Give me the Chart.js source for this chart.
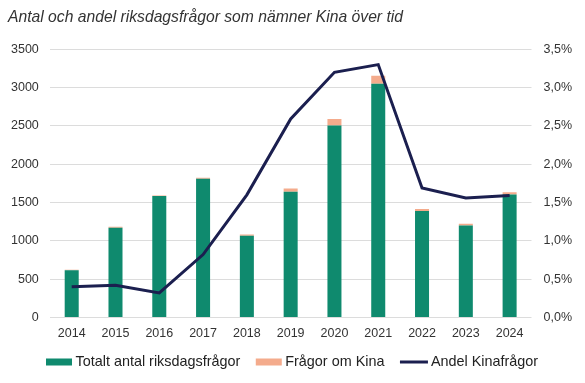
<!DOCTYPE html>
<html><head><meta charset="utf-8">
<script src="https://cdn.jsdelivr.net/npm/chart.js@4/dist/chart.umd.min.js"></script>
<style>html,body{margin:0;padding:0;background:#fff}#wrap{width:585px;height:383px}</style>
</head><body><div id="wrap"><canvas id="c" width="585" height="383"></canvas></div>
<script>
const years = ['2014','2015','2016','2017','2018','2019','2020','2021','2022','2023','2024'];
const totalQuestions = [615, 1170, 1585, 1810, 1065, 1640, 2505, 3050, 1390, 1200, 1605];
const chinaQuestions = [8, 12, 6, 14, 18, 42, 85, 105, 25, 22, 30];
const chinaShare = [0.40, 0.42, 0.32, 0.82, 1.60, 2.59, 3.20, 3.30, 1.69, 1.56, 1.59];
const titleText = 'Antal och andel riksdagsfrågor som nämner Kina över tid';

const font = "'Liberation Sans', Arial, sans-serif";

const customLegend = {
  id:'customLegend',
  afterDraw(chart){
    const ctx = chart.ctx;
    ctx.save();
    ctx.textBaseline = 'middle';
    ctx.textAlign = 'left';
    ctx.fillStyle = '#333';
    ctx.font = "italic 15.7px " + font;
    ctx.fillText(titleText, 8, 18);
    ctx.font = "14.4px " + font;
    let x = 46; const y = 362;
    chart.data.datasets.forEach((ds, i) => {
      if (ds.type === 'line') {
        ctx.strokeStyle = ds.borderColor; ctx.lineWidth = 3;
        ctx.beginPath(); ctx.moveTo(x, y); ctx.lineTo(x+28, y); ctx.stroke();
        x += 31;
      } else {
        ctx.fillStyle = ds.backgroundColor;
        ctx.fillRect(x, y-3.5, 26, 7);
        x += 29.5;
      }
      ctx.fillStyle = '#222';
      ctx.fillText(ds.label, x, y+0.5);
      x += ctx.measureText(ds.label).width + 15.5;
    });
    ctx.restore();
  }
};

new Chart(document.getElementById('c'), {
  data: {
    labels: years,
    datasets: [
      {type:'bar', label:'Totalt antal riksdagsfrågor', data: totalQuestions, backgroundColor:'#0f8a6e', stack:'s', yAxisID:'y', order:1, categoryPercentage:1, barPercentage:0.32},
      {type:'bar', label:'Frågor om Kina', data: chinaQuestions, backgroundColor:'#f4ab8c', stack:'s', yAxisID:'y', order:1, categoryPercentage:1, barPercentage:0.32},
      {type:'line', label:'Andel Kinafrågor', data: chinaShare, borderColor:'#1b1f4f', backgroundColor:'#1b1f4f', borderWidth:3, pointRadius:0, tension:0, yAxisID:'y1', order:0}
    ]
  },
  plugins:[customLegend],
  options: {
    responsive:false, animation:false,
    layout:{padding:{left:0, right:1, top:49.3, bottom:32.6}},
    plugins:{
      title:{display:false},
      legend:{display:false},
      tooltip:{enabled:false}
    },
    scales:{
      x:{stacked:true, grid:{display:false, drawTicks:false}, border:{display:false}, ticks:{color:'#333', font:{family:font, size:12.5}, padding:9}},
      y:{stacked:true, min:0, max:3500, ticks:{stepSize:500, color:'#333', font:{family:font, size:12.5}, padding:11, callback:v=>String(v)}, grid:{color:'#dcdcdc', drawTicks:false}, border:{display:false}},
      y1:{position:'right', min:0, max:3.5, ticks:{stepSize:0.5, color:'#333', font:{family:font, size:12.5}, padding:12, callback:v=>v.toFixed(1).replace('.',',')+'%'}, grid:{display:false, drawTicks:false}, border:{display:false}}
    }
  }
});
</script></body></html>
